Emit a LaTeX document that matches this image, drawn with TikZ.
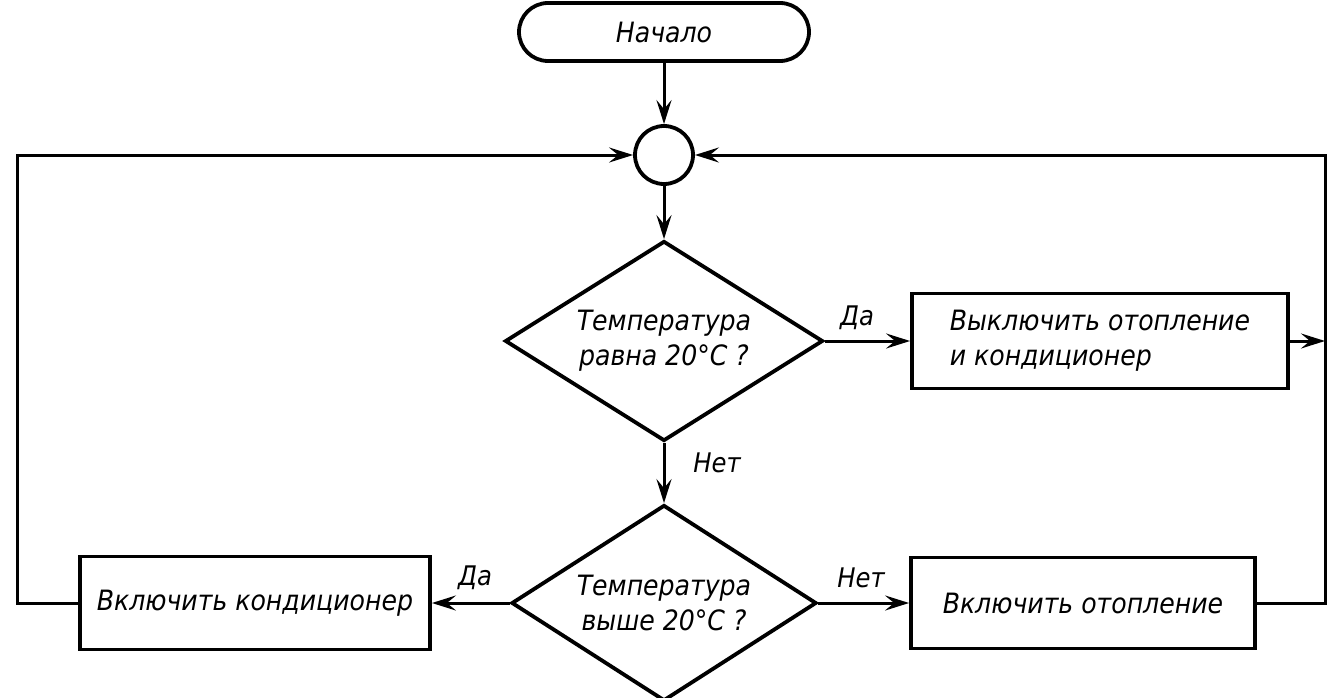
\documentclass[tikz,border=0pt]{standalone}
\usepackage{fontspec}
\setmainfont{DejaVu Sans Condensed}[ItalicFont={DejaVu Sans Condensed Oblique}]
\usetikzlibrary{arrows.meta,shapes.geometric}
\begin{document}
\begin{tikzpicture}[x=1pt,y=-1pt,
  every node/.style={font=\fontsize{28}{35}\selectfont\itshape},
  shapeline/.style={draw, line width=3.8pt},
  terminal/.style={shapeline, rounded corners=29pt, minimum width=290pt, minimum height=58pt, inner sep=0pt},
  joint/.style={shapeline, circle, minimum size=58pt, inner sep=0pt},
  decision/.style={shapeline, diamond, aspect=1.6, inner sep=0pt, align=center},
  process/.style={shapeline, rectangle, inner sep=0pt, align=left},
  tip/.style={-{Stealth[length=24pt,width=15pt,inset=9pt]}},
  flow/.style={line width=3pt, tip},
  loopline/.style={line width=3pt},
  tag/.style={inner sep=0pt, font=\fontsize{27}{30}\selectfont\itshape}
]
\useasboundingbox (0,0) rectangle (1327,698);

% blocks
\node[terminal] (start) at (664,32) {Начало};
\node[joint] (join) at (664,155) {};
\node[decision, minimum width=318pt, minimum height=200pt] (q1) at (664,341) {Температура\\равна 20°C ?};
\node[decision, minimum width=305pt, minimum height=196pt] (q2) at (664,603) {Температура\\выше 20°C ?};
\node[process, minimum width=376pt, minimum height=95pt] (off) at (1100,341) {Выключить отопление\\и кондиционер};
\node[process, minimum width=350pt, minimum height=93pt] (cool) at (255,603) {Включить кондиционер};
\node[process, minimum width=344pt, minimum height=91pt] (heat) at (1083,603) {Включить отопление};

% branch labels
\node[tag] (yes1) at (857,318) {Да};
\node[tag] (no1) at (717,463) {Нет};
\node[tag] (yes2) at (475,578) {Да};
\node[tag] (no2) at (861,578) {Нет};

% loop corners
\coordinate (lc) at (17,603);
\coordinate (rc) at (1325,603);
\coordinate (rj) at (1325,341);

% main flow
\draw[flow] (start) -- (join);
\draw[flow] (join) -- (q1.north);
\draw[flow] (q1.east) -- (off.west);
\draw[flow] (q1.south) -- (q2.north);
\draw[flow] (q2.west) -- (cool.east);
\draw[flow] (q2.east) -- (heat.west);

% return loops
\draw[loopline, tip] (cool.west) -- (lc) |- (join.west);
\draw[loopline, tip] (heat.east) -- (rc) |- (join.east);
\draw[flow] (off.east) -- (rj);
\end{tikzpicture}
\end{document}
